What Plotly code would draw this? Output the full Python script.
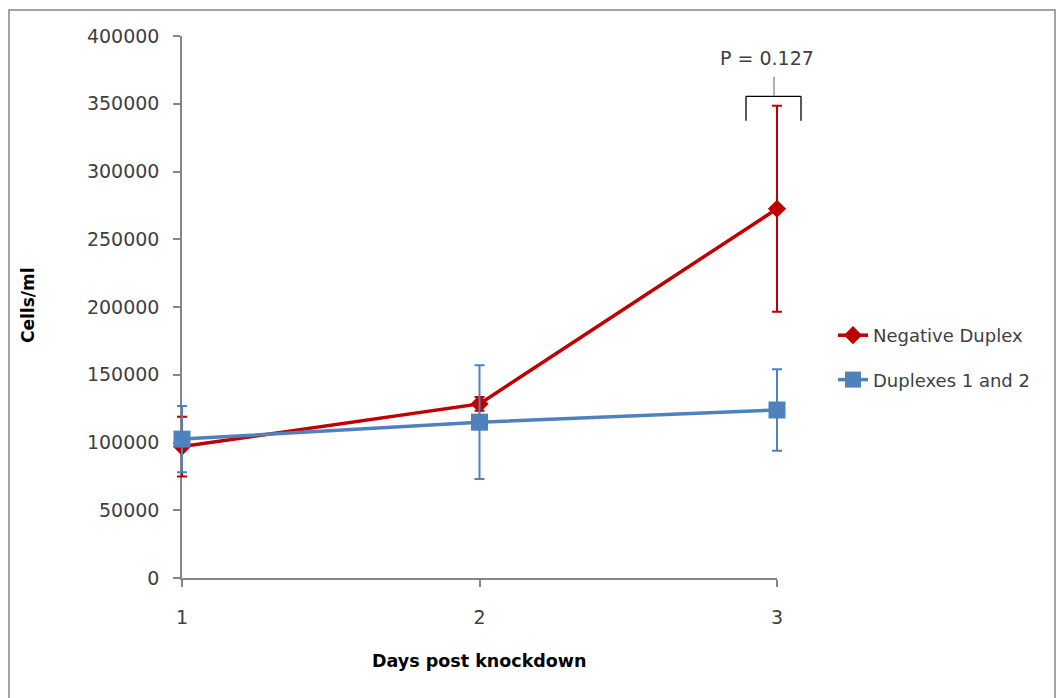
import plotly.graph_objects as go

days = [1, 2, 3]
neg_mean = [97000, 128500, 272500]
neg_err = [22000, 5000, 76000]
dup_mean = [102500, 115000, 124000]
dup_err = [24500, 42000, 30000]
y_ticks = [0, 50000, 100000, 150000, 200000, 250000, 300000, 350000, 400000]
p_label = "P = 0.127"

RED = "#C00000"
BLUE = "#4F81BD"
AX = "#868686"
TXT = "#404040"
FONT = "DejaVu Sans"

YMAX = 400000
W, H = 1063, 698
# plot area of the visible axes: x 182..777, y 36..578
AXL, AXR = 182, 777
PAD = 14  # extra room so error bars/markers at the edges are not clipped
L, R, T, B = AXL - PAD, W - AXR - PAD, 36, 120
pw = W - L - R
ph = H - T - B
unit_px = (AXR - AXL) / (days[-1] - days[0])
ext = PAD / unit_px

def px(x):
    return (x - L) / pw

def py(y):
    return (H - B - y) / ph

fig = go.Figure()
# invisible helper trace so that the visible category axis (x/y) is rendered
fig.add_trace(go.Scatter(x=[days[0]], y=[None], mode="markers", showlegend=False,
                         hoverinfo="skip", xaxis="x", yaxis="y"))
fig.add_trace(go.Scatter(
    x=days, y=neg_mean, name="Negative Duplex", mode="lines+markers",
    line=dict(color=RED, width=3.5),
    marker=dict(symbol="diamond", size=14, color=RED),
    error_y=dict(type="data", array=neg_err, color=RED, thickness=2, width=5),
    legendgroup="a", cliponaxis=False, xaxis="x2", yaxis="y",
))
fig.add_trace(go.Scatter(
    x=days, y=dup_mean, name="Duplexes 1 and 2", mode="lines+markers",
    line=dict(color=BLUE, width=3.5),
    marker=dict(symbol="square", size=17, color=BLUE),
    error_y=dict(type="data", array=dup_err, color=BLUE, thickness=2, width=5),
    legendgroup="b", cliponaxis=False, xaxis="x2", yaxis="y",
))

# significance bracket around day 3
top_val = neg_mean[2] + neg_err[2]
br_y = (top_val + 7000) / YMAX
br_low = (top_val - 11000) / YMAX
stem_top = (top_val + 21500) / YMAX
xl, xr, xc = px(746), px(801), px(774)
shapes = [
    dict(type="line", xref="paper", yref="paper", x0=xl, x1=xr, y0=br_y, y1=br_y, line=dict(color="#000000", width=1.3)),
    dict(type="line", xref="paper", yref="paper", x0=xl, x1=xl, y0=br_y, y1=br_low, line=dict(color="#000000", width=1.3)),
    dict(type="line", xref="paper", yref="paper", x0=xr, x1=xr, y0=br_y, y1=br_low, line=dict(color="#000000", width=1.3)),
    dict(type="line", xref="paper", yref="paper", x0=xc, x1=xc, y0=br_y, y1=stem_top, line=dict(color=AX, width=1.3)),
    dict(type="rect", xref="paper", yref="paper", x0=px(9), x1=px(1055), y0=py(10), y1=py(712),
         line=dict(color=AX, width=1.5), fillcolor="rgba(0,0,0,0)"),
]

annotations = [
    dict(text=p_label, xref="paper", yref="paper", x=px(767), y=py(58), showarrow=False,
         font=dict(family=FONT, size=19, color=TXT), xanchor="center", yanchor="middle"),
    dict(text="<b>Cells/ml</b>", xref="paper", yref="paper", x=px(28), y=py(305), showarrow=False,
         textangle=-90, font=dict(family=FONT, size=17, color="#000000"), xanchor="center", yanchor="middle"),
    dict(text="<b>Days post knockdown</b>", xref="paper", yref="paper", x=px(479), y=py(661), showarrow=False,
         font=dict(family=FONT, size=17.5, color="#000000"), xanchor="center", yanchor="middle"),
]

fig.update_layout(
    width=W, height=H,
    margin=dict(l=L, r=R, t=T, b=B, pad=0),
    paper_bgcolor="white", plot_bgcolor="rgba(0,0,0,0)",
    font=dict(family=FONT, size=19, color=TXT),
    shapes=shapes, annotations=annotations,
    showlegend=True,
    legend=dict(x=px(833), y=py(317), xanchor="left", yanchor="top",
                font=dict(family=FONT, size=18, color=TXT),
                traceorder="grouped", tracegroupgap=18, itemwidth=30,
                bgcolor="rgba(0,0,0,0)"),
    xaxis=dict(domain=[px(AXL), px(AXR)], range=[days[0], days[-1]], anchor="y",
               tickmode="array", tickvals=days, ticktext=[str(d) for d in days],
               showgrid=False, zeroline=False, showline=True, linecolor=AX, linewidth=1.5,
               ticks="outside", ticklen=7, tickcolor=AX, tickwidth=1.5, ticklabelstandoff=14,
               tickfont=dict(family=FONT, size=19, color=TXT)),
    xaxis2=dict(domain=[0, 1], range=[days[0] - ext, days[-1] + ext], anchor="y",
                visible=False, showgrid=False, zeroline=False),
    yaxis=dict(range=[0, YMAX], anchor="x", tickmode="array", tickvals=y_ticks,
               ticktext=[str(v) for v in y_ticks],
               showgrid=False, zeroline=False, showline=True, linecolor=AX, linewidth=1.5,
               ticks="outside", ticklen=7, tickcolor=AX, tickwidth=1.5, ticklabelstandoff=10,
               tickfont=dict(family=FONT, size=19, color=TXT)),
)

fig.write_html("out.html")
